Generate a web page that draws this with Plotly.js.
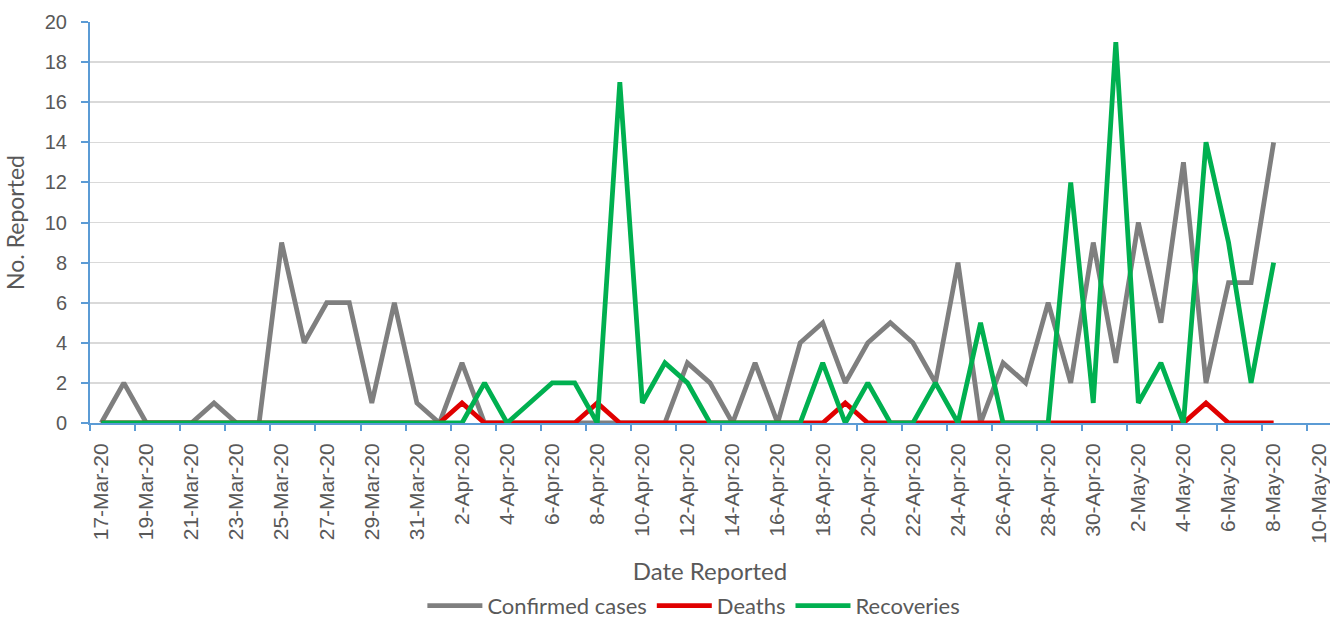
<!DOCTYPE html>
<html>
<head>
<meta charset="utf-8">
<script src="https://cdn.plot.ly/plotly-3.0.1.min.js"></script>
<style>html,body{margin:0;padding:0;background:#fff;}#chart{width:1330px;height:618px;}</style>
</head>
<body>
<div id="chart"></div>
<script>
const dates = [
  '2020-03-17','2020-03-18','2020-03-19','2020-03-20','2020-03-21','2020-03-22','2020-03-23','2020-03-24',
  '2020-03-25','2020-03-26','2020-03-27','2020-03-28','2020-03-29','2020-03-30','2020-03-31',
  '2020-04-01','2020-04-02','2020-04-03','2020-04-04','2020-04-05','2020-04-06','2020-04-07','2020-04-08',
  '2020-04-09','2020-04-10','2020-04-11','2020-04-12','2020-04-13','2020-04-14','2020-04-15','2020-04-16',
  '2020-04-17','2020-04-18','2020-04-19','2020-04-20','2020-04-21','2020-04-22','2020-04-23','2020-04-24',
  '2020-04-25','2020-04-26','2020-04-27','2020-04-28','2020-04-29','2020-04-30',
  '2020-05-01','2020-05-02','2020-05-03','2020-05-04','2020-05-05','2020-05-06','2020-05-07','2020-05-08'
];
const confirmedCases = [0,2,0,0,0,1,0,0,9,4,6,6,1,6,1,0,3,0,0,0,0,0,0,0,0,0,3,2,0,3,0,4,5,2,4,5,4,2,8,0,3,2,6,2,9,3,10,5,13,2,7,7,14];
const deaths         = [0,0,0,0,0,0,0,0,0,0,0,0,0,0,0,0,1,0,0,0,0,0,1,0,0,0,0,0,0,0,0,0,0,1,0,0,0,0,0,0,0,0,0,0,0,0,0,0,0,1,0,0,0];
const recoveries     = [0,0,0,0,0,0,0,0,0,0,0,0,0,0,0,0,0,2,0,1,2,2,0,17,1,3,2,0,0,0,0,0,3,0,2,0,0,2,0,5,0,0,0,12,1,19,1,3,0,14,9,2,8];
const seriesNames = ['Confirmed cases','Deaths','Recoveries'];
const seriesColors = ['#7F7F7F','#E00000','#00B050'];
const yTicks = [0,2,4,6,8,10,12,14,16,18,20];
const xRange = ['2020-03-16 12:00','2020-05-10 12:00'];
const firstLabel = '2020-03-17';
const DAY = 86400000;

const allSeries = [confirmedCases, deaths, recoveries];
const traces = allSeries.map((vals, i) => ({
  type: 'scatter', mode: 'lines', x: dates, y: vals, name: seriesNames[i],
  legendgroup: 'g' + i,
  line: {color: seriesColors[i], width: 4.8, shape: 'linear'},
  hoverinfo: 'x+y+name'
}));

const axisBlue = '#5B9BD5';
const layout = {
  width: 1330, height: 618,
  margin: {l: 90, r: 0, t: 22, b: 195, autoexpand: false},
  paper_bgcolor: '#ffffff', plot_bgcolor: '#ffffff',
  showlegend: true,
  legend: {
    orientation: 'h', x: 0.487, xanchor: 'center', y: -0.456, yanchor: 'middle',
    font: {family: 'Lato, sans-serif', size: 22, color: '#595959'},
    itemwidth: 55, traceorder: 'grouped', tracegroupgap: 24, borderwidth: 0
  },
  xaxis: {
    type: 'date', range: xRange, autorange: false, automargin: false,
    tick0: firstLabel, dtick: 2*DAY, tickformat: '%-d-%b-%y', tickangle: -90,
    ticks: '', showgrid: false, zeroline: false,
    showline: true, linecolor: axisBlue, linewidth: 2,
    tickfont: {family: 'Liberation Sans, Arial, sans-serif', size: 21, color: '#595959'},
    ticklabelstandoff: 10,
    minor: {ticks: 'outside', ticklen: 6, tickwidth: 2, tickcolor: axisBlue,
            tick0: xRange[0], dtick: 2*DAY, showgrid: false},
    title: {text: 'Date Reported', standoff: 20,
            font: {family: 'Lato, sans-serif', size: 24, color: '#595959'}}
  },
  yaxis: {
    range: [0, 20], autorange: false, automargin: false, tickmode: 'array', tickvals: yTicks,
    ticks: 'outside', ticklen: 7, tickwidth: 2, tickcolor: axisBlue,
    showline: true, linecolor: axisBlue, linewidth: 2,
    showgrid: true, gridcolor: '#D9D9D9', gridwidth: 1.6, zeroline: false,
    tickfont: {family: 'Liberation Sans, Arial, sans-serif', size: 20, color: '#595959'},
    ticklabelstandoff: 10,
    title: {text: 'No. Reported', standoff: 14,
            font: {family: 'Lato, sans-serif', size: 23, color: '#595959'}}
  }
};

Plotly.newPlot('chart', traces, layout, {displayModeBar: false, staticPlot: true});
</script>
</body>
</html>
